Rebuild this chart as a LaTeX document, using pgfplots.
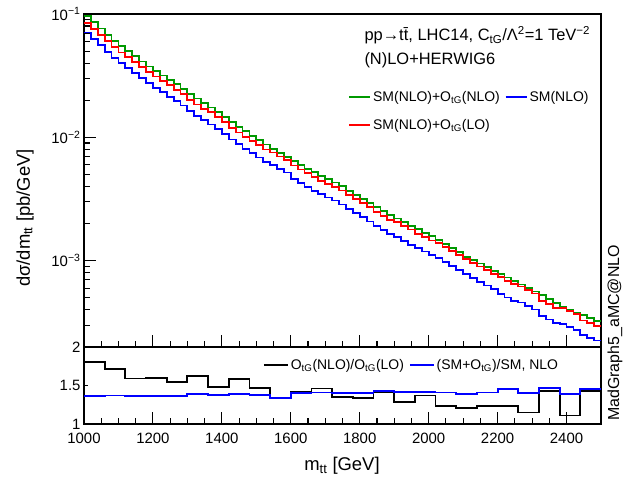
\documentclass[border=0pt]{standalone}
\usepackage{fontspec}
\setmainfont{Liberation Sans}
\usepackage{pgfplots}
\pgfplotsset{compat=1.18}
\usepackage{pgfplotstable}

\definecolor{rootgreen}{RGB}{0,153,0}
\definecolor{rootblue}{RGB}{0,0,255}
\definecolor{rootred}{RGB}{255,0,0}
\newcommand{\fs}[1]{\fontsize{#1}{#1}\selectfont}

% 20 GeV bins, left edges; last row closes the histogram
\pgfplotstableread{
x g b r
1000 0.0966 0.0707 0.0850
1020 0.0859 0.0628 0.0756
1040 0.0762 0.0557 0.0671
1060 0.0678 0.0495 0.0602
1080 0.0605 0.0442 0.0537
1100 0.0550 0.0401 0.0488
1120 0.0499 0.0367 0.0450
1140 0.0454 0.0334 0.0409
1160 0.0412 0.0303 0.0371
1180 0.0376 0.0275 0.0338
1200 0.0346 0.0253 0.0311
1220 0.0318 0.0233 0.0286
1240 0.0292 0.0214 0.0264
1260 0.0269 0.0197 0.0243
1280 0.0247 0.0181 0.0224
1300 0.0226 0.01626 0.0202
1320 0.0207 0.01489 0.01848
1340 0.0191 0.01374 0.01705
1360 0.0175 0.01273 0.01595
1380 0.0160 0.01164 0.01458
1400 0.0146 0.01062 0.01330
1420 0.0133 0.00960 0.01195
1440 0.0122 0.00881 0.01096
1460 0.0112 0.00809 0.01006
1480 0.0103 0.00746 0.00940
1500 0.00948 0.00687 0.00865
1520 0.00875 0.00634 0.00798
1540 0.00805 0.00601 0.00755
1560 0.00746 0.00557 0.00699
1580 0.00695 0.00519 0.00651
1600 0.00646 0.00461 0.00591
1620 0.00600 0.00429 0.00550
1640 0.00558 0.00399 0.00511
1660 0.00522 0.00370 0.00474
1680 0.00490 0.00348 0.00445
1700 0.00459 0.00326 0.00417
1720 0.00431 0.00308 0.00399
1740 0.00401 0.00286 0.00371
1760 0.00370 0.00264 0.00343
1780 0.00342 0.00243 0.00317
1800 0.00316 0.00225 0.00293
1820 0.00292 0.00208 0.00271
1840 0.00272 0.00190 0.00248
1860 0.00253 0.00177 0.00231
1880 0.00236 0.00165 0.00215
1900 0.00220 0.00155 0.00205
1920 0.00205 0.00144 0.00191
1940 0.00192 0.00135 0.00179
1960 0.00180 0.00127 0.00166
1980 0.00169 0.00119 0.00156
2000 0.00159 0.00112 0.00146
2020 0.00148 0.00105 0.00140
2040 0.00137 0.000972 0.001296
2060 0.00127 0.000901 0.001201
2080 0.00117 0.000842 0.001113
2100 0.00108 0.000777 0.001027
2120 0.00101 0.000727 0.000961
2140 0.000950 0.000674 0.000898
2160 0.000889 0.000631 0.000841
2180 0.000832 0.000590 0.000786
2200 0.000780 0.000538 0.000735
2220 0.000731 0.000504 0.000688
2240 0.000685 0.000472 0.000645
2260 0.000643 0.000459 0.000619
2280 0.000603 0.000431 0.000581
2300 0.000564 0.000403 0.000543
2320 0.000525 0.000358 0.000475
2340 0.000490 0.000334 0.000443
2360 0.000456 0.000311 0.000413
2380 0.000426 0.000308 0.000414
2400 0.000401 0.000290 0.000390
2420 0.000381 0.000275 0.000370
2440 0.000362 0.000250 0.000328
2460 0.000344 0.000237 0.000312
2480 0.000327 0.000226 0.000297
2500 0.000327 0.000226 0.000297
}\spectrum

% 60 GeV bins for the ratios
\pgfplotstableread{
x kfac smrat
1000 1.81 1.367
1060 1.71 1.37
1120 1.59 1.36
1180 1.60 1.365
1240 1.55 1.365
1300 1.62 1.39
1360 1.48 1.375
1420 1.58 1.385
1480 1.47 1.38
1540 1.33 1.34
1600 1.42 1.40
1660 1.46 1.41
1720 1.35 1.40
1780 1.34 1.406
1840 1.42 1.43
1900 1.29 1.42
1960 1.37 1.42
2020 1.23 1.41
2080 1.21 1.39
2140 1.23 1.41
2200 1.23 1.45
2260 1.15 1.40
2320 1.43 1.467
2380 1.11 1.385
2440 1.43 1.45
2500 1.43 1.45
}\ratios

\pgfplotsset{
  rootax/.style={
    scale only axis, width=517bp, xmin=1000, xmax=2500,
    axis line style={line width=1.1bp},
    tick style={line width=1.1bp, black},
    tick align=inside, xtick pos=left, ytick pos=left,
    xtick={1000,1200,...,2400}, minor x tick num=3,
    major tick length=12bp, minor tick length=6bp,
    ticklabel style={font=\fs{15}},
    /pgf/number format/assume math mode=true,
    /pgf/number format/1000 sep={},
    legend cell align=left,
  },
  hist/.style={const plot, line width=1.8bp},
}

\begin{document}
\begin{tikzpicture}
\useasboundingbox (-84bp,-466bp) rectangle (554bp,14bp);

\begin{axis}[rootax, at={(0bp,0bp)}, anchor=north west, height=333bp,
  ymode=log, ymin=2e-4, ymax=0.1,
  xticklabels={},
  ytick={1e-3,1e-2,1e-1},
  yticklabels={10\textsuperscript{−3},10\textsuperscript{−2},10\textsuperscript{−1}},
  minor ytick={2e-4,3e-4,4e-4,5e-4,6e-4,7e-4,8e-4,9e-4,
    2e-3,3e-3,4e-3,5e-3,6e-3,7e-3,8e-3,9e-3,
    2e-2,3e-2,4e-2,5e-2,6e-2,7e-2,8e-2,9e-2},
  legend image code/.code={\draw[#1] (0bp,0bp) -- (21bp,0bp);},
  legend columns=2,
  legend style={draw=none, fill=none, font=\fs{14}, inner sep=0pt,
    anchor=west, at={(axis description cs:0.511,0.709)},
    row sep=12bp, nodes={inner sep=2bp},
    /tikz/every even column/.append style={column sep=3bp}},
]
\addplot[hist, rootgreen] table[x=x, y=g] {\spectrum};
\addlegendentry{SM(NLO)+O\textsubscript{tG}(NLO)}
\addplot[hist, rootblue] table[x=x, y=b] {\spectrum};
\addlegendentry{SM(NLO)}
\addplot[hist, rootred] table[x=x, y=r] {\spectrum};
\addlegendentry{SM(NLO)+O\textsubscript{tG}(LO)}
\end{axis}

\begin{axis}[rootax, at={(0bp,-333bp)}, anchor=north west, height=77bp,
  ymin=1, ymax=2, ytick={1,2}, yticklabels={1,2},
  extra y ticks={1.5}, extra y tick labels={1.5},
  extra y tick style={major tick length=4bp},
  xticklabel style={yshift=-6bp},
  legend image code/.code={\draw[#1] (0bp,0bp) -- (24bp,0bp);},
  legend columns=2,
  legend style={draw=none, fill=none, font=\fs{14}, inner sep=0pt,
    anchor=west, at={(axis description cs:0.346,0.766)},
    nodes={inner sep=2bp},
    /tikz/every even column/.append style={column sep=3bp}},
]
\addplot[hist, black] table[x=x, y=kfac] {\ratios};
\addlegendentry{O\textsubscript{tG}(NLO)/O\textsubscript{tG}(LO)}
\addplot[hist, rootblue] table[x=x, y=smrat] {\ratios};
\addlegendentry{(SM+O\textsubscript{tG})/SM, NLO}
\end{axis}

\node[anchor=west, font=\fs{16.5}] at (277bp,-21bp)
  {pp→t\={t}, LHC14, C\textsubscript{tG}/Λ\textsuperscript{2}=1 TeV\textsuperscript{−2}};
\node[anchor=west, font=\fs{16.5}] at (277bp,-46bp) {(N)LO+HERWIG6};
\node[rotate=90, font=\fs{18.5}] at (-59bp,-204bp) {dσ/dm\textsubscript{tt} [pb/GeV]};
\node[font=\fs{18.5}] at (258bp,-452bp) {m\textsubscript{tt} [GeV]};
\node[rotate=90, font=\fs{16}] at (531bp,-319bp) {MadGraph5\_aMC@NLO};
\end{tikzpicture}
\end{document}
